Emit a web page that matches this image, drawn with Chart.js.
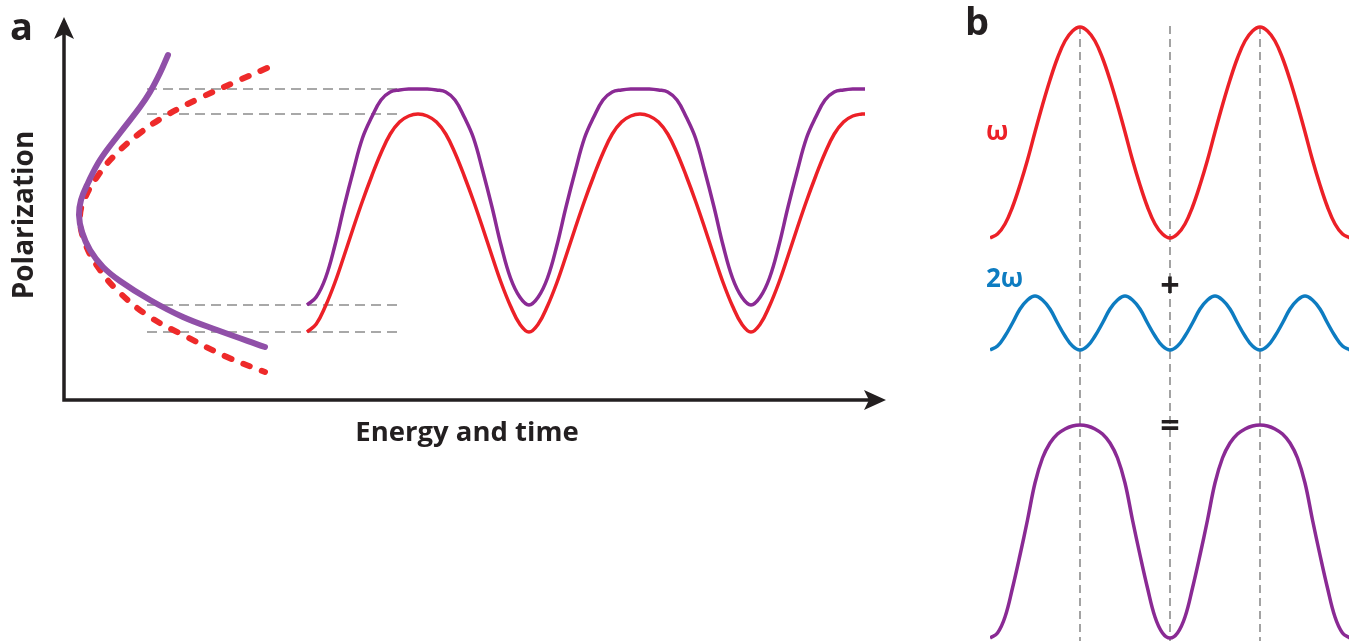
<!DOCTYPE html>
<html>
<head>
<meta charset="utf-8">
<script src="https://cdn.jsdelivr.net/npm/chart.js@4.4.1/dist/chart.umd.min.js"></script>
<style>
  html, body { margin: 0; padding: 0; background: #fff; }
  #wrap { position: relative; width: 1349px; height: 641px; overflow: hidden;
          font-family: 'Open Sans', sans-serif; font-weight: 700; }
  canvas { position: absolute; top: 0; }
  #chartA { left: 0; }
  #chartB { left: 960px; }
  .lbl { position: absolute; line-height: 1; white-space: nowrap; }
</style>
</head>
<body>
<div id="wrap">
  <canvas id="chartA" width="960" height="641"></canvas>
  <canvas id="chartB" width="389" height="641"></canvas>
  <div class="lbl" style="left:10px;top:6px;font-size:38px;color:#231f20">a</div>
  <div class="lbl" style="left:965px;top:1px;font-size:38px;color:#231f20">b</div>
  <div class="lbl" style="left:986px;top:117px;font-size:26px;color:#ec2027">ω</div>
  <div class="lbl" style="left:986px;top:264px;font-size:26px;color:#0d7cc1">2ω</div>
  <div class="lbl" style="left:1145px;width:50px;text-align:center;top:267px;font-size:34px;color:#231f20">+</div>
  <div class="lbl" style="left:1145px;width:50px;text-align:center;top:407px;font-size:34px;color:#231f20">=</div>
</div>
<script>
// ---------- panel a : energy and time vs polarization ----------
// time positions of the wave samples (axis units)
const waveTime = [243, 252.25, 261.5, 270.75, 280, 289.25, 298.5, 307.75, 317, 326.25, 335.5, 344.75,
  354, 363.25, 372.5, 381.75, 391, 400.25, 409.5, 418.75, 428, 437.25, 446.5, 455.75,
  465, 474.25, 483.5, 492.75, 502, 511.25, 520.5, 529.75, 539, 548.25, 557.5, 566.75,
  576, 585.25, 594.5, 603.75, 613, 622.25, 631.5, 640.75, 650, 659.25, 668.5, 677.75,
  687, 696.25, 705.5, 714.75, 724, 733.25, 742.5, 751.75, 761, 770.25, 779.5, 788.75,
  798, 801];
// red wave (linear response)
const linearWave = [68, 76, 94, 117, 144, 172, 199, 224, 247, 266, 278, 284,
  286, 284, 278, 266, 247, 224, 199, 172, 144, 117, 94, 76,
  68, 76, 94, 117, 144, 172, 199, 224, 247, 266, 278, 284,
  286, 284, 278, 266, 247, 224, 199, 172, 144, 117, 94, 76,
  68, 76, 94, 117, 144, 172, 199, 224, 247, 266, 278, 284,
  286, 286];
// purple wave (nonlinear response)
const nonlinearWave = [95, 103, 122, 154, 193, 229, 262, 283, 300, 308, 310, 311,
  311, 311, 310, 308, 300, 283, 262, 229, 193, 154, 122, 103,
  95, 103, 122, 154, 193, 229, 262, 283, 300, 308, 310, 311,
  311, 311, 310, 308, 300, 283, 262, 229, 193, 154, 122, 103,
  95, 103, 122, 154, 193, 229, 262, 283, 300, 308, 310, 311,
  311, 311];
// response curves (energy, polarization)
const arcRedE = [203, 169, 136, 103, 76, 49, 33, 21, 16, 21, 36, 56, 86, 123, 163, 201];
const arcRedP = [332, 317, 302, 285, 267, 243, 223, 202, 183, 157, 130, 107, 83, 63, 43, 28];
const arcPurpleE = [104, 96, 86, 76, 56, 36, 24, 17, 15, 18, 26, 39, 56, 86, 119, 153, 201];
const arcPurpleP = [345, 327, 308, 293, 267, 240, 217, 200, 185, 168, 150, 133, 119, 100, 83, 70, 53];
// dashed guide levels
const guideLevels = [311, 286, 95, 68];
const guideSpan = [83, 336];

// ---------- panel b : phase in degrees ----------
const phaseDeg = [-180, -165, -150, -135, -120, -105, -90, -75, -60, -45, -30, -15,
  0, 15, 30, 45, 60, 75, 90, 105, 120, 135, 150, 165,
  180, 195, 210, 225, 240, 255, 270, 285, 300, 315, 330, 345,
  360, 375, 390, 405, 420, 435, 450, 465, 480, 495, 510, 525, 540];
const waveOmega = [40.3, 40.7, 41.7, 43.4, 45.6, 48.1, 50.9, 53.6, 56.1, 58.3, 60.0, 61.0,
  61.4, 61.0, 60.0, 58.3, 56.1, 53.6, 50.9, 48.1, 45.6, 43.4, 41.7, 40.7,
  40.3, 40.7, 41.7, 43.4, 45.6, 48.1, 50.9, 53.6, 56.1, 58.3, 60.0, 61.0,
  61.4, 61.0, 60.0, 58.3, 56.1, 53.6, 50.9, 48.1, 45.6, 43.4, 41.7, 40.7, 40.3];
const wave2Omega = [29.1, 29.5, 30.5, 31.8, 33.2, 34.1, 34.5, 34.1, 33.2, 31.8, 30.5, 29.5,
  29.1, 29.5, 30.5, 31.8, 33.2, 34.1, 34.5, 34.1, 33.2, 31.8, 30.5, 29.5,
  29.1, 29.5, 30.5, 31.8, 33.2, 34.1, 34.5, 34.1, 33.2, 31.8, 30.5, 29.5,
  29.1, 29.5, 30.5, 31.8, 33.2, 34.1, 34.5, 34.1, 33.2, 31.8, 30.5, 29.5, 29.1];
const waveSum = [0.3, 0.8, 2.4, 5.3, 8.6, 12.1, 15.8, 18.3, 19.8, 20.7, 21.2, 21.5,
  21.6, 21.5, 21.2, 20.7, 19.8, 18.3, 15.8, 12.1, 8.6, 5.3, 2.4, 0.8,
  0.3, 0.8, 2.4, 5.3, 8.6, 12.1, 15.8, 18.3, 19.8, 20.7, 21.2, 21.5,
  21.6, 21.5, 21.2, 20.7, 19.8, 18.3, 15.8, 12.1, 8.6, 5.3, 2.4, 0.8, 0.3];
const markerPhase = [0, 180, 360];
const markerTop = 61.5;

const INK = '#231f20';
const RED = '#ec2027';
const PURPLE = '#8a2a94';
const BLUE = '#0d7cc1';
const GREY = '#8c8c8c';
const FONT = "'Open Sans', sans-serif";

function zip(xs, ys) {
    return xs.map(function(v, i) { return { x: v, y: ys[i] }; });
}

// axis arrows for panel a
const arrowAxes = {
    id: 'arrowAxes',
    afterDraw: function(chart) {
        const ctx = chart.ctx;
        const sx = chart.scales.x, sy = chart.scales.y;
        const ox = sx.getPixelForValue(0), oy = sy.getPixelForValue(0);
        const yTip = sy.getPixelForValue(383), xTip = sx.getPixelForValue(822);
        ctx.save();
        ctx.strokeStyle = INK;
        ctx.fillStyle = INK;
        ctx.lineWidth = 3.5;
        ctx.beginPath();
        ctx.moveTo(ox, oy + 1.75);
        ctx.lineTo(ox, yTip + 14);
        ctx.moveTo(ox - 1.75, oy);
        ctx.lineTo(xTip - 14, oy);
        ctx.stroke();
        ctx.beginPath();
        ctx.moveTo(ox, yTip);
        ctx.lineTo(ox + 10, yTip + 22);
        ctx.lineTo(ox, yTip + 17);
        ctx.lineTo(ox - 10, yTip + 22);
        ctx.closePath();
        ctx.fill();
        ctx.beginPath();
        ctx.moveTo(xTip, oy);
        ctx.lineTo(xTip - 22, oy - 10);
        ctx.lineTo(xTip - 17, oy);
        ctx.lineTo(xTip - 22, oy + 10);
        ctx.closePath();
        ctx.fill();
        ctx.restore();
    }
};

const guideSets = guideLevels.map(function(lv) {
    return {
        data: [{ x: guideSpan[0], y: lv }, { x: guideSpan[1], y: lv }],
        borderColor: GREY,
        borderWidth: 1.6,
        borderDash: [10, 6],
        pointRadius: 0
    };
});

new Chart(document.getElementById('chartA'), {
    type: 'line',
    data: {
        datasets: [
            {
                data: zip(arcPurpleE, arcPurpleP),
                borderColor: '#9050a8',
                borderWidth: 6,
                borderCapStyle: 'round',
                tension: 0.4,
                pointRadius: 0
            },
            {
                data: zip(arcRedE, arcRedP),
                borderColor: '#ee2a2a',
                borderWidth: 6,
                borderDash: [7, 13],
                borderCapStyle: 'round',
                tension: 0.4,
                pointRadius: 0
            },
            {
                data: zip(waveTime, nonlinearWave),
                borderColor: PURPLE,
                borderWidth: 3.5,
                tension: 0.4,
                pointRadius: 0
            },
            {
                data: zip(waveTime, linearWave),
                borderColor: RED,
                borderWidth: 3.5,
                tension: 0.4,
                pointRadius: 0
            }
        ].concat(guideSets)
    },
    options: {
        responsive: false,
        animation: false,
        events: [],
        layout: { padding: { left: 0, top: 30, right: 90, bottom: 181 } },
        plugins: { legend: { display: false }, tooltip: { enabled: false } },
        scales: {
            x: {
                type: 'linear',
                min: 0,
                max: 806,
                grid: { display: false },
                border: { display: false },
                ticks: { display: false },
                title: {
                    display: true,
                    text: 'Energy and time',
                    color: INK,
                    font: { family: FONT, size: 27.5, weight: 'bold' },
                    padding: { top: 0, bottom: 10 }
                },
                afterFit: function(s) { s.height = 60; }
            },
            y: {
                min: 0,
                max: 370,
                grid: { display: false },
                border: { display: false },
                ticks: { display: false },
                title: {
                    display: true,
                    text: 'Polarization',
                    color: INK,
                    font: { family: FONT, size: 28, weight: 'bold' },
                    padding: { top: 8.5, bottom: 0 }
                },
                afterFit: function(s) { s.width = 64; }
            }
        }
    },
    plugins: [arrowAxes]
});

// ---------- panel b ----------
const markerSets = markerPhase.map(function(p) {
    return {
        data: [{ x: p, y: markerTop }, { x: p, y: 0 }],
        borderColor: GREY,
        borderWidth: 1.6,
        borderDash: [8, 5],
        pointRadius: 0
    };
});

new Chart(document.getElementById('chartB'), {
    type: 'line',
    data: {
        datasets: [
            {
                data: zip(phaseDeg, waveOmega),
                borderColor: RED,
                borderWidth: 3.5,
                tension: 0.4,
                pointRadius: 0
            },
            {
                data: zip(phaseDeg, wave2Omega),
                borderColor: BLUE,
                borderWidth: 3.5,
                tension: 0.4,
                pointRadius: 0
            },
            {
                data: zip(phaseDeg, waveSum),
                borderColor: PURPLE,
                borderWidth: 3.5,
                tension: 0.4,
                pointRadius: 0
            }
        ].concat(markerSets)
    },
    options: {
        responsive: false,
        animation: false,
        events: [],
        layout: { padding: { left: 30, top: 0, right: 0, bottom: 0 } },
        plugins: { legend: { display: false }, tooltip: { enabled: false } },
        scales: {
            x: { type: 'linear', min: -180, max: 538, display: false },
            y: { min: 0, max: 64.1, display: false }
        }
    }
});
</script>
</body>
</html>
